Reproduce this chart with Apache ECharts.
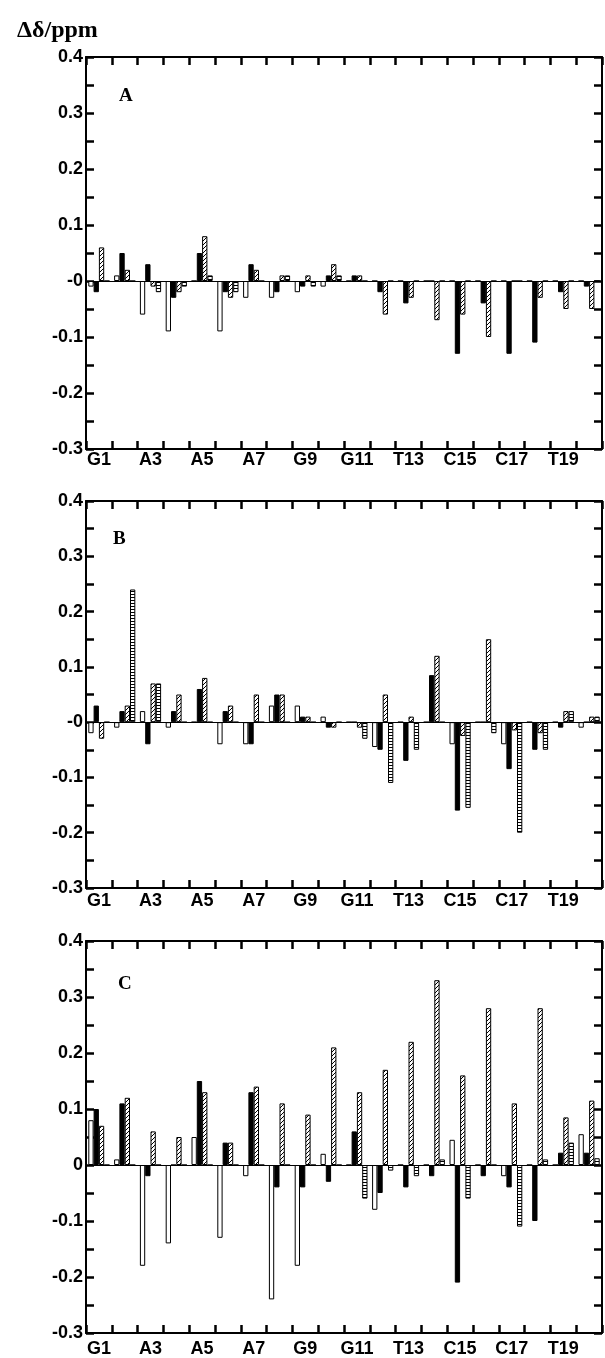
<!DOCTYPE html>
<html><head><meta charset="utf-8">
<script src="https://cdn.jsdelivr.net/npm/echarts@6/dist/echarts.min.js"></script>
<style>html,body{margin:0;padding:0;background:#fff}#c{width:605px;height:1358px}</style>
</head><body><div id="c"></div>
<script>
// residues (only odd ones are labelled on the axis)
const residues = ['G1','2','A3','4','A5','6','A7','8','G9','10','G11','12','T13','14','C15','16','C17','18','T19','20'];
const yTicks = [-0.3,-0.2,-0.1,0,0.1,0.2,0.3,0.4];
// zero tick label as printed in each panel
const zeroLabels = ['-0','-0','0'];

// Panel A
const aOpen  = [-0.01,0.01,-0.06,-0.09,0,-0.09,-0.03,-0.03,-0.02,-0.01,0,0,0,0,0,0,0,0,0,0];
const aBlack = [-0.02,0.05,0.03,-0.03,0.05,-0.02,0.03,-0.02,-0.01,0.01,0.01,-0.02,-0.04,0,-0.13,-0.04,-0.13,-0.11,-0.02,-0.01];
const aDiag  = [0.06,0.02,-0.01,-0.02,0.08,-0.03,0.02,0.01,0.01,0.03,0.01,-0.06,-0.03,-0.07,-0.06,-0.10,0,-0.03,-0.05,-0.05];
const aHoriz = [0,0,-0.02,-0.01,0.01,-0.02,0,0.01,-0.01,0.01,0,0,0,0,0,0,0,0,0,0];
// Panel B
const bOpen  = [-0.02,-0.01,0.02,-0.01,0,-0.04,-0.04,0.03,0.03,0.01,0,-0.045,0,0,-0.04,0,-0.04,0,0,-0.01];
const bBlack = [0.03,0.02,-0.04,0.02,0.06,0.02,-0.04,0.05,0.01,-0.01,0,-0.05,-0.07,0.085,-0.16,0,-0.085,-0.05,-0.01,0];
const bDiag  = [-0.03,0.03,0.07,0.05,0.08,0.03,0.05,0.05,0.01,-0.01,-0.01,0.05,0.01,0.12,-0.025,0.15,-0.015,-0.02,0.02,0.01];
const bHoriz = [0,0.24,0.07,0,0,0,0,0,0,0,-0.03,-0.11,-0.05,0,-0.155,-0.02,-0.2,-0.05,0.02,0.01];
// Panel C
const cOpen  = [0.08,0.01,-0.18,-0.14,0.05,-0.13,-0.02,-0.24,-0.18,0.02,0,-0.08,0,0,0.045,0,-0.02,0,0,0.055];
const cBlack = [0.10,0.11,-0.02,0,0.15,0.04,0.13,-0.04,-0.04,-0.03,0.06,-0.05,-0.04,-0.02,-0.21,-0.02,-0.04,-0.10,0.022,0.022];
const cDiag  = [0.07,0.12,0.06,0.05,0.13,0.04,0.14,0.11,0.09,0.21,0.13,0.17,0.22,0.33,0.16,0.28,0.11,0.28,0.085,0.115];
const cHoriz = [0,0,0,0,0,0,0,0,0,0,-0.06,-0.01,-0.02,0.01,-0.06,0,-0.11,0.01,0.04,0.012];

const panels = [
  {label:'A', data:[aOpen,aBlack,aDiag,aHoriz], top:57, height:392, labelTop:82, labelLeft:114, xMargin:2},
  {label:'B', data:[bOpen,bBlack,bDiag,bHoriz], top:501, height:387, labelTop:525, labelLeft:108, xMargin:4},
  {label:'C', data:[cOpen,cBlack,cDiag,cHoriz], top:941, height:396, labelTop:970, labelLeft:113, xMargin:7}
];

function diagPattern(){
  const c=document.createElement('canvas'); c.width=4; c.height=4;
  const g=c.getContext('2d'); g.fillStyle='#fff'; g.fillRect(0,0,4,4);
  g.strokeStyle='#000'; g.lineWidth=1; g.beginPath();
  g.moveTo(0,4); g.lineTo(4,0); g.moveTo(-1,1); g.lineTo(1,-1); g.moveTo(3,5); g.lineTo(5,3); g.stroke();
  return c;
}
function horizPattern(){
  const c=document.createElement('canvas'); c.width=3; c.height=3;
  const g=c.getContext('2d'); g.fillStyle='#fff'; g.fillRect(0,0,3,3);
  g.fillStyle='#000'; g.fillRect(0,0,3,1);
  return c;
}
const fills = ['#ffffff','#000000',{image:diagPattern(),repeat:'repeat'},{image:horizPattern(),repeat:'repeat'}];

const LEFT=86, WIDTH=516;
const grid=[], xAxis=[], yAxis=[], series=[], title=[];
title.push({text:'Δδ/ppm', left:12, top:14, textStyle:{fontFamily:'Liberation Serif', fontWeight:'bold', fontSize:24, color:'#000'}});
function tk(){ return {show:true, inside:true, length:8, lineStyle:{color:'#000', width:2.5}}; }
function ln(){ return {show:true, onZero:false, lineStyle:{color:'#000', width:2}}; }
panels.forEach((p,i)=>{
  grid.push({left:LEFT, top:p.top, width:WIDTH, height:p.height, show:false});
  title.push({text:p.label, left:p.labelLeft, top:p.labelTop, textStyle:{fontFamily:'Liberation Serif', fontWeight:'bold', fontSize:19, color:'#000'}});
  xAxis.push({type:'category', gridIndex:i, data:residues, position:'bottom', axisLine:ln(),
    axisTick:Object.assign(tk(),{interval:0}),
    axisLabel:{interval:1, margin:p.xMargin, color:'#000', fontFamily:'Liberation Sans', fontWeight:'bold', fontSize:18}});
  xAxis.push({type:'category', gridIndex:i, data:residues, position:'top', axisLine:ln(),
    axisTick:Object.assign(tk(),{interval:0}), axisLabel:{show:false}});
  const zl = zeroLabels[i];
  yAxis.push({type:'value', gridIndex:i, min:yTicks[0], max:yTicks[yTicks.length-1], interval:0.1, splitLine:{show:false}, position:'left',
    axisLine:ln(), axisTick:tk(),
    minorTick:{show:true, splitNumber:2, length:8, lineStyle:{color:'#000', width:2.5}},
    axisLabel:{margin:3, color:'#000', fontFamily:'Liberation Sans', fontWeight:'bold', fontSize:18, formatter:v=>Math.abs(v)<1e-9?zl:v.toFixed(1)}});
  yAxis.push({type:'value', gridIndex:i, min:yTicks[0], max:yTicks[yTicks.length-1], interval:0.1, splitLine:{show:false}, position:'right',
    axisLine:ln(), axisTick:tk(),
    minorTick:{show:true, splitNumber:2, length:8, lineStyle:{color:'#000', width:2.5}}, axisLabel:{show:false}});
  p.data.forEach((arr,k)=>{
    const s={type:'bar', xAxisIndex:2*i, yAxisIndex:2*i, data:arr, barWidth:5.3, barGap:'0%', barCategoryGap:'0%',
      itemStyle:{color:fills[k], borderColor:'#000', borderWidth:1}, silent:true, animation:false};
    if(k===0){ s.markLine={silent:true, symbol:'none', label:{show:false}, lineStyle:{color:'#000', width:1, type:'solid'}, data:[{yAxis:0}], animation:false}; }
    series.push(s);
  });
});
const chart=echarts.init(document.getElementById('c'),null,{renderer:'canvas'});
chart.setOption({animation:false, backgroundColor:'#fff', title, grid, xAxis, yAxis, series});
</script></body></html>
